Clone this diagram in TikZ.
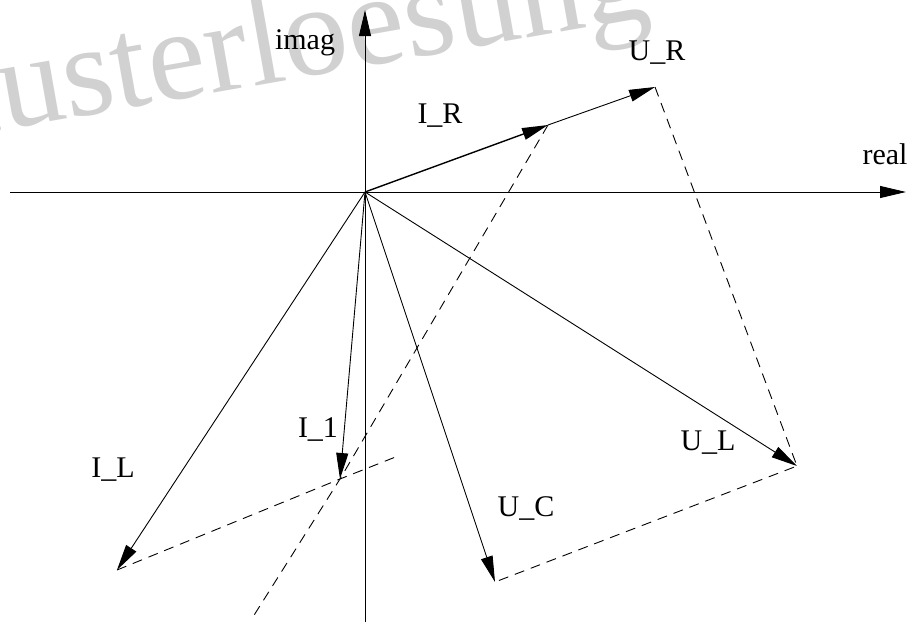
\documentclass[tikz,border=0pt]{standalone}
\usepackage{fontspec}
\setmainfont{Liberation Serif}
\usetikzlibrary{arrows.meta}
\begin{document}
\begin{tikzpicture}[x=1pt,y=-1pt,
  vec/.style={line width=0.9pt,-{Triangle[length=26pt,width=12pt]}},
  aux/.style={line width=0.9pt,dash pattern=on 10pt off 7pt},
  lbl/.style={inner sep=0pt,font=\fontsize{30}{30}\selectfont}]
\useasboundingbox (0,0) rectangle (911,624);
\begin{scope}
  \clip (0,0) rectangle (911,624);
  \node[anchor=base west,rotate=10,inner sep=0pt,text=black!18,
        font=\fontsize{130}{130}\selectfont] (wm) at (-109,150) {Musterloesung};
\end{scope}
% points
\coordinate (O) at (365,192);
\coordinate (xl) at (10,192);
\coordinate (xr) at (906,192);
\coordinate (yb) at (365,622);
\coordinate (yt) at (365,10);
\coordinate (IR) at (548,125);
\coordinate (UR) at (655,87);
\coordinate (UL) at (797,466);
\coordinate (UC) at (495,582);
\coordinate (I1) at (340,479);
\coordinate (IL) at (117,570);
\coordinate (d1) at (398,456);
\coordinate (d2) at (251,620);
% dashed construction lines
\draw[aux] (UR) -- (UL) -- (UC);
\draw[aux] (IL) -- (I1) -- (d1);
\draw[aux] (IR) -- (I1) -- (d2);
% axes
\draw[vec] (xl) -- (xr);
\draw[vec] (yb) -- (yt);
% phasors
\draw[vec,line width=1.4pt] (O) -- (IR);
\draw[vec] (IR) -- (UR);
\draw[vec] (O) -- (UL);
\draw[vec] (O) -- (UC);
\draw[vec] (O) -- (I1);
\draw[vec] (O) -- (IL);
% labels
\node[lbl] (limag) at (305,43) {imag};
\node[lbl] (lreal) at (885,154) {real};
\node[lbl] (lIR) at (440,116) {I\_R};
\node[lbl] (lUR) at (657,53) {U\_R};
\node[lbl] (lUL) at (708,443) {U\_L};
\node[lbl] (lUC) at (526,508) {U\_C};
\node[lbl] (lI1) at (318,430) {I\_1};
\node[lbl] (lIL) at (113,470) {I\_L};
\end{tikzpicture}
\end{document}
